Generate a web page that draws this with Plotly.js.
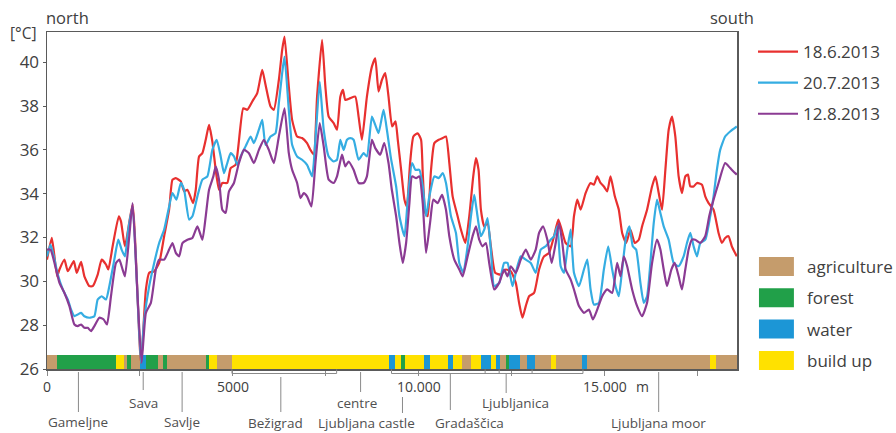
<!DOCTYPE html>
<html><head><meta charset="utf-8">
<script src="https://cdn.plot.ly/plotly-3.0.1.min.js"></script>
<style>html,body{margin:0;padding:0;background:#fff}#chart{width:896px;height:433px}</style>
</head><body><div id="chart"></div>
<script>
// ---- data: distance along transect (m) and air temperature (°C)
const redDist = [0,130,273,335,469,559,720,800,916,1005,1140,1229,1363,1470,1586,1649,1765,1930,1989,2096,2301,2525,2659,2748,2882,3016,3150,3284,3374,3463,3597,3687,3776,3928,4000,4089,4178,4268,4357,4446,4536,4625,4714,4848,4938,5072,5277,5385,5519,5653,5787,5876,6010,6100,6234,6323,6386,6502,6591,6725,6859,6993,7083,7172,7262,7396,7485,7574,7708,7798,7887,7958,8021,8155,8289,8378,8468,8602,8736,8826,8915,9005,9094,9183,9280,9370,9432,9522,9611,9674,9763,9852,9969,10058,10103,10174,10237,10326,10415,10532,10639,10728,10818,10907,11041,11130,11247,11354,11461,11533,11604,11667,11756,11845,11935,12051,12203,12337,12471,12605,12694,12784,12873,12963,13097,13231,13365,13499,13633,13749,13838,13946,14080,14169,14258,14348,14482,14616,14705,14795,14884,14973,15063,15152,15268,15375,15465,15572,15688,15805,15912,16001,16135,16269,16359,16448,16537,16627,16716,16806,16895,16984,17073,17163,17234,17297,17386,17476,17610,17699,17789,17923,18057,18146,18235,18325,18414,18548];
const redTemp = [30.99,31.98,30.23,30.54,30.99,30.46,30.92,30.39,30.89,30.23,29.78,29.78,30.31,30.99,30.77,30.54,31.60,32.97,32.74,31.60,33.50,26.29,29.63,30.39,30.46,30.84,32.06,33.27,34.64,34.71,34.56,34.11,34.18,33.57,34.18,35.70,35.85,36.46,37.14,36.38,35.09,34.18,34.49,34.49,35.17,35.32,37.90,37.83,38.21,38.59,39.65,38.97,37.98,37.83,39.19,40.56,41.17,38.89,37.37,36.61,36.54,36.31,36.00,35.78,38.43,41.02,38.89,37.52,37.22,36.92,38.43,38.74,38.28,38.36,38.43,37.52,36.46,38.43,39.80,40.18,38.66,39.19,39.50,38.43,37.07,37.30,36.46,35.09,33.73,33.42,35.40,36.61,36.76,36.46,34.94,33.12,32.97,35.09,36.31,36.46,36.54,36.61,35.40,33.88,32.97,32.36,31.75,32.97,34.79,35.62,35.09,33.27,32.51,32.66,31.60,30.39,30.31,30.54,30.46,29.93,29.02,28.34,28.87,29.32,29.47,30.54,31.14,31.30,32.06,32.82,32.36,31.75,31.60,32.97,33.73,33.27,34.03,34.49,34.41,34.79,34.49,34.33,34.11,34.79,33.88,33.27,32.21,31.75,32.36,31.75,31.90,32.51,33.27,34.33,34.79,34.03,33.27,35.09,36.92,37.52,36.61,34.79,34.03,34.79,34.87,34.33,34.33,34.49,34.41,33.88,33.57,33.27,32.21,31.75,31.98,32.06,31.60,31.14];

const blueDist = [0,94,183,290,425,559,648,737,827,916,1005,1140,1274,1363,1470,1586,1676,1810,1917,2006,2096,2185,2301,2417,2525,2614,2748,2882,3016,3150,3284,3374,3481,3597,3687,3821,3910,4044,4178,4312,4446,4563,4670,4759,4848,4938,5027,5116,5206,5340,5474,5563,5697,5787,5876,6010,6144,6234,6323,6386,6502,6591,6725,6859,6993,7128,7217,7333,7440,7574,7708,7798,7887,7976,8066,8155,8244,8378,8513,8602,8736,8826,8915,9049,9139,9250,9388,9477,9611,9701,9817,9906,10013,10103,10192,10281,10415,10532,10639,10728,10862,10996,11086,11193,11309,11399,11488,11551,11667,11756,11845,11935,12024,12158,12292,12382,12516,12605,12739,12873,13007,13141,13275,13409,13543,13633,13722,13812,13901,13990,14080,14169,14303,14437,14527,14616,14705,14839,14973,15090,15197,15286,15375,15465,15572,15661,15751,15840,15956,16046,16135,16224,16314,16403,16493,16582,16716,16850,16984,17118,17208,17297,17386,17476,17565,17699,17833,17923,18012,18101,18235,18370,18548];
const blueTemp = [31.14,31.68,31.14,30.31,29.63,29.17,28.71,28.41,28.49,28.56,28.41,28.34,28.41,29.17,29.32,29.17,29.78,30.99,31.90,31.45,31.14,32.36,33.42,29.93,26.29,28.26,29.78,30.84,31.75,32.36,33.42,34.03,33.73,34.49,34.18,32.82,32.97,33.88,34.64,34.79,36.00,36.46,35.70,34.94,35.40,35.85,35.70,35.32,35.70,36.16,36.61,36.31,36.92,37.37,36.23,36.61,36.76,38.13,39.50,40.26,37.83,36.23,35.70,35.55,35.32,34.79,36.46,39.12,36.92,35.70,35.47,35.55,36.46,36.00,36.46,36.54,36.46,35.55,35.85,35.70,37.52,37.14,36.76,37.83,36.92,35.60,34.33,32.97,32.06,33.73,35.40,35.09,35.09,34.33,32.97,33.88,34.79,34.71,34.94,34.49,32.97,32.21,30.84,30.39,31.60,32.97,33.95,33.27,32.06,32.36,32.89,31.45,29.78,29.93,30.84,30.84,29.78,30.39,31.14,30.99,30.84,30.39,31.45,31.60,31.90,32.06,32.51,30.69,30.39,31.45,32.36,30.39,29.78,30.54,30.99,29.63,28.94,29.02,30.54,31.60,30.54,29.78,29.32,30.54,32.06,32.51,31.60,31.45,29.93,29.02,29.32,30.84,32.66,33.73,33.12,32.51,31.90,30.84,30.69,31.14,31.75,32.21,31.60,31.14,31.75,31.90,32.97,33.88,35.09,36.00,36.61,36.84,37.07];

const purpleDist = [0,94,201,335,469,603,737,827,916,1005,1095,1184,1274,1408,1524,1613,1720,1855,1944,2033,2096,2212,2301,2435,2543,2659,2793,2927,3016,3150,3284,3374,3463,3553,3642,3776,3910,4044,4178,4268,4357,4473,4536,4625,4714,4804,4893,5027,5161,5295,5429,5563,5697,5831,5965,6100,6234,6386,6502,6591,6725,6815,6904,6993,7110,7217,7333,7440,7574,7708,7798,7932,8021,8110,8244,8378,8513,8602,8736,8826,8960,9067,9183,9272,9388,9477,9566,9656,9745,9817,9924,10013,10103,10192,10299,10389,10505,10621,10728,10818,10952,11086,11175,11309,11443,11533,11622,11711,11801,11890,12024,12158,12292,12382,12471,12605,12739,12873,13007,13141,13231,13338,13454,13570,13678,13767,13856,13946,14080,14169,14303,14437,14571,14679,14795,14929,15063,15197,15331,15420,15510,15599,15733,15867,16001,16135,16269,16403,16493,16582,16671,16788,16877,16984,17073,17163,17252,17342,17431,17565,17699,17806,17923,18057,18235,18370,18504,18548];
const purpleTemp = [31.45,31.45,30.84,29.93,29.47,28.87,28.03,27.96,28.03,27.88,27.88,27.73,27.96,28.34,28.26,28.03,29.32,30.84,30.99,30.54,30.23,32.06,33.57,29.32,26.29,28.56,29.02,30.54,30.99,30.99,31.45,31.75,31.30,31.14,31.75,31.90,31.98,32.51,31.90,32.97,34.18,34.79,35.25,34.64,33.27,33.12,34.11,34.49,35.40,36.00,35.85,35.40,36.00,36.46,36.00,35.40,36.61,37.90,35.85,35.09,34.49,33.80,34.03,33.88,33.42,35.40,37.22,36.16,34.64,34.49,34.79,35.78,35.25,35.47,35.09,34.49,34.49,34.79,36.46,36.08,35.78,36.31,35.40,34.18,32.97,31.75,30.84,31.75,33.57,34.79,34.71,34.79,33.57,31.30,32.66,33.73,33.57,33.95,33.27,32.06,30.99,30.54,30.23,31.14,32.06,32.51,31.90,31.60,31.75,30.84,29.63,29.93,30.54,30.23,30.69,30.39,30.99,31.45,30.99,31.45,32.21,32.51,31.90,30.84,31.75,32.66,31.75,30.54,30.08,29.63,28.87,28.56,28.71,28.26,28.71,29.32,29.63,29.47,30.84,30.23,31.14,30.69,29.63,28.87,28.41,29.02,30.84,31.90,31.45,30.54,29.78,30.54,30.84,30.23,29.63,30.54,31.45,31.90,31.90,31.75,32.06,32.97,33.73,34.49,35.40,35.17,34.94,34.87];

const seriesNames = ['18.6.2013', '20.7.2013', '12.8.2013'];

// land use along the transect: segment edges (m) and category of each segment
const landCategories = ['agriculture', 'forest', 'water', 'build up'];
const landEdges = [0,282,1863,2078,2158,2265,2507,2668,2989,3123,3231,4276,4356,4571,4973,9209,9370,9531,9638,10148,10309,10791,10925,11166,11407,11675,11943,12078,12185,12346,12426,12721,12909,13123,13552,13686,14383,14517,17815,17976,18553];
const landTypes = ['agriculture','forest','build up','agriculture','forest','agriculture','water','forest','agriculture','forest','agriculture','forest','build up','agriculture','build up','water','build up','forest','build up','water','build up','water','build up','agriculture','build up','water','build up','water','agriculture','forest','water','agriculture','water','agriculture','build up','agriculture','water','agriculture','build up','agriculture'];

// places along the transect (m)
const placeNames = ['Gameljne', 'Sava', 'Savlje', 'Bežigrad', 'centre', 'Ljubljana castle', 'Gradaščica', 'Ljubljanica', 'Ljubljana moor'];
const placeDist = [845, 2587, 3633, 6287, 8432, 9558, 10845, 12346, 16447];

// x tick labels
const xTickVals = [0, 2500, 5000, 7500, 10000, 12500, 15000, 17500];
const xTickText = ['0', '', '5000', '', '10.000', '', '15.000', ''];
const yTickVals = [26, 28, 30, 32, 34, 36, 38, 40];

// ---- styling
const seriesColors = ['#e8302f', '#35ade2', '#8b3b93'];
const landColors = {'agriculture': '#c59c6c', 'forest': '#21a049', 'water': '#1c96d6', 'build up': '#ffe100'};
const FONT = 'Open Sans, Noto Sans, sans-serif';
const W = 896, H = 433, M = {l: 47, r: 158, t: 32, b: 64};
const PW = W - M.l - M.r, PH = H - M.t - M.b;
const py = p => (H - M.b - p) / PH;      // pixel row -> paper y
const px = p => (p - M.l) / PW;          // pixel col -> paper x
const BAR_H = 0.64;

const traces = [];
landCategories.forEach(cat => {
  const xs = [], ws = [], ys = [];
  landTypes.forEach((t, i) => {
    if (t !== cat) return;
    xs.push((landEdges[i] + landEdges[i + 1]) / 2);
    ws.push(landEdges[i + 1] - landEdges[i]);
    ys.push(BAR_H);
  });
  traces.push({type: 'bar', x: xs, y: ys, width: ws, base: 26, name: cat,
    marker: {color: landColors[cat], line: {width: 0}}, showlegend: false, hoverinfo: 'skip'});
});
[[redDist, redTemp], [blueDist, blueTemp], [purpleDist, purpleTemp]].forEach((d, i) => {
  traces.push({type: 'scatter', mode: 'lines', x: d[0], y: d[1], name: seriesNames[i],
    legendgroup: 'g' + i, line: {color: seriesColors[i], width: 2.2, shape: 'spline', smoothing: 0.5}});
});

const shapes = [], annotations = [];
const GREY = '#8a8a8a';
// leader lines and place labels
const lead = [[372, 412, 422, 0], [372, 390, 403, 0], [372, 412, 422, 0], [377, 412, 423, -5], [372, 392, 403, -4],
              [397, 413, 423, -36], [373, 410, 423, 19], [373, 393, 403, 9], [372, 412, 423, 0]];
placeNames.forEach((n, i) => {
  const L = lead[i];
  shapes.push({type: 'line', xref: 'x', yref: 'paper', x0: placeDist[i], x1: placeDist[i], y0: py(L[0]), y1: py(L[1]),
    line: {color: GREY, width: 1}});
  annotations.push({xref: 'x', yref: 'paper', x: placeDist[i], y: py(L[2]), text: n, showarrow: false,
    xanchor: 'center', yanchor: 'middle', xshift: L[3], font: {family: FONT, size: 13.5, color: '#505050'}});
});
// brackets under the axis
const brY = py(373.5);
[[4973, 7788], [9263, 14411]].forEach(b => {
  shapes.push({type: 'path', xref: 'x', yref: 'paper',
    path: `M${b[0]},${py(369.5)} L${b[0]},${brY} L${b[1]},${brY} L${b[1]},${py(369.5)}`,
    line: {color: GREY, width: 1}});
});
[11781, 12158, 13043].forEach(v => shapes.push({type: 'line', xref: 'x', yref: 'paper', x0: v, x1: v,
  y0: py(369.5), y1: brY, line: {color: GREY, width: 1}}));

// land-use legend
landCategories.forEach((c, i) => {
  const top = 257 + i * 31.3;
  shapes.push({type: 'rect', xref: 'paper', yref: 'paper', x0: px(760), x1: px(795), y0: py(top), y1: py(top + 19),
    fillcolor: landColors[c], line: {width: 0}});
  annotations.push({xref: 'paper', yref: 'paper', x: px(806), y: py(top + 9.5), text: c, showarrow: false,
    xanchor: 'left', yanchor: 'middle', font: {family: FONT, size: 17, color: '#404040'}});
});
// corner texts
annotations.push({xref: 'paper', yref: 'paper', x: px(44), y: py(18), text: 'north', showarrow: false,
  xanchor: 'left', yanchor: 'middle', font: {family: FONT, size: 16.5, color: '#404040'}});
annotations.push({xref: 'paper', yref: 'paper', x: px(757), y: py(18), text: 'south', showarrow: false,
  xanchor: 'right', yanchor: 'middle', font: {family: FONT, size: 16.5, color: '#404040'}});
annotations.push({xref: 'paper', yref: 'paper', x: px(8), y: py(33), text: '[°C]', showarrow: false,
  xanchor: 'left', yanchor: 'middle', font: {family: FONT, size: 15.5, color: '#404040'}});
annotations.push({xref: 'x', yref: 'paper', x: 15000, y: py(386), text: 'm', showarrow: false,
  xanchor: 'left', yanchor: 'middle', xshift: 29, font: {family: FONT, size: 14, color: '#404040'}});

const layout = {
  width: W, height: H, margin: M, paper_bgcolor: '#fff', plot_bgcolor: '#fff',
  font: {family: FONT, color: '#404040'},
  barmode: 'overlay', bargap: 0,
  showlegend: true,
  legend: {x: px(753), y: py(34), xanchor: 'left', yanchor: 'top', bgcolor: 'rgba(0,0,0,0)',
    font: {family: FONT, size: 17, color: '#404040'}, itemwidth: 40, traceorder: 'grouped', tracegroupgap: 6},
  xaxis: {range: [0, 18553], showgrid: false, zeroline: false, showline: true, mirror: true,
    linecolor: '#5a5a5a', linewidth: 1.5, ticks: 'outside', ticklen: 5, tickcolor: GREY, tickwidth: 1,
    tickmode: 'array', tickvals: xTickVals, ticktext: xTickText,
    tickfont: {family: FONT, size: 14, color: '#404040'}},
  yaxis: {range: [26, 41.38], showgrid: false, zeroline: false, showline: true, mirror: true,
    linecolor: '#5a5a5a', linewidth: 1.5, ticks: 'outside', ticklen: 3, tickcolor: '#5a5a5a',
    tickmode: 'array', tickvals: yTickVals, tickfont: {family: FONT, size: 17, color: '#404040'}},
  shapes: shapes, annotations: annotations
};
Plotly.newPlot('chart', traces, layout, {displayModeBar: false, staticPlot: true});
</script></body></html>
